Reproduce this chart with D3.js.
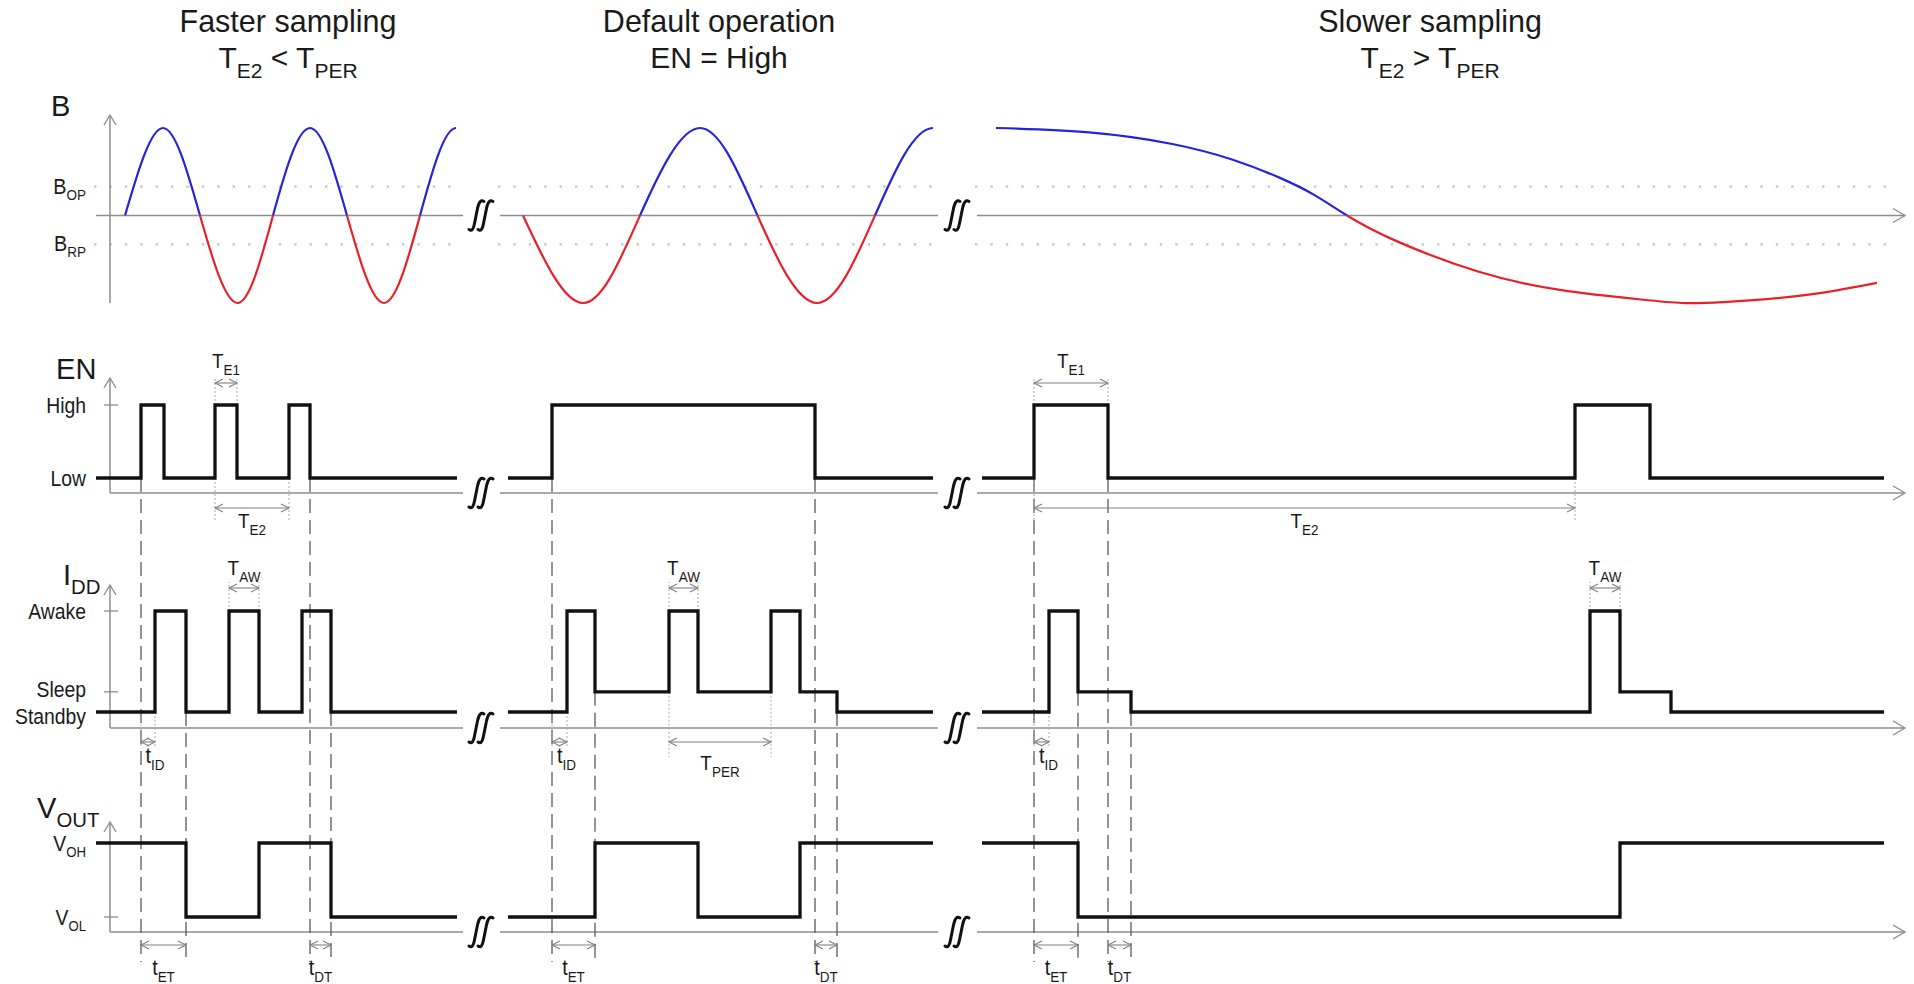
<!DOCTYPE html>
<html>
<head>
<meta charset="utf-8">
<script src="https://cdn.jsdelivr.net/npm/d3@7"></script>
<style>
  body { margin: 0; background: #fff; }
  svg { display: block; font-family: "Liberation Sans", Arial, sans-serif; }
</style>
</head>
<body>
<svg id="chart" width="1914" height="984"></svg>
<script>
"use strict";
// ---- data (time in arbitrary units, levels in normalised units) ----
var titleLines = ["Faster sampling", "Default operation", "Slower sampling"];
var titleConds = [
    [["T", 0], ["E2", 1], [" < T", 0], ["PER", 1]],
    [["EN = High", 0]],
    [["T", 0], ["E2", 1], [" > T", 0], ["PER", 1]]
];
var panelCenters = [19.3, 62.4, 133.5];
var axisSpans = [[1.5, 36.8], [40.5, 84.3], [88.2, 181]];
var dotSpans = [[-0.1, 36], [40.3, 84.1], [88, 179.5]];
var breakTimes = [38.6, 86.2];

// magnetic field, key points [time, B]
var bFast = [[3.0, 0], [6.8, 1], [10.5, 0], [14.25, -1], [17.8, 0], [21.5, 1], [25.2, 0], [28.9, -1], [32.5, 0], [36.1, 1]];
var bDefault = [[42.8, 0], [48.8, -1], [54.5, 0], [60.5, 1], [66.25, 0], [72.2, -1], [78.0, 0], [83.8, 1]];
var bSlow = [[90.1, 1.0], [99.4, 0.95], [107.6, 0.82], [113.7, 0.64], [118.5, 0.43], [122.0, 0.23], [125.2, 0],
    [130.1, -0.29], [138.3, -0.64], [146.5, -0.85], [154.6, -0.96], [158.7, -1.0], [162.8, -0.99], [171.0, -0.91], [178.2, -0.77]];
var bLevels = [{ name: "B", sub: "OP", v: 0.33 }, { name: "B", sub: "RP", v: -0.33 }];

// EN: 0 = Low, 1 = High
var en = [
    [[0.1, 0], [4.6, 1], [6.9, 0], [12.0, 1], [14.2, 0], [19.4, 1], [21.5, 0], [36.2, 0]],
    [[41.3, 0], [45.7, 1], [72.0, 0], [83.8, 0]],
    [[88.7, 0], [93.9, 1], [101.3, 0], [148.0, 1], [155.5, 0], [178.9, 0]]
];
// IDD: 0 = Standby, 0.2 = Sleep, 1 = Awake
var idd = [
    [[0.1, 0], [6.0, 1], [9.1, 0], [13.4, 1], [16.4, 0], [20.7, 1], [23.6, 0], [36.2, 0]],
    [[41.3, 0], [47.2, 1], [50.0, 0.2], [57.4, 1], [60.3, 0.2], [67.6, 1], [70.5, 0.2], [74.2, 0], [83.8, 0]],
    [[88.7, 0], [95.4, 1], [98.3, 0.2], [103.6, 0], [149.5, 1], [152.5, 0.2], [157.6, 0], [178.9, 0]]
];
// VOUT: 0 = VOL, 1 = VOH
var vout = [
    [[0.1, 1], [9.1, 0], [16.4, 1], [23.6, 0], [36.2, 0]],
    [[41.3, 0], [50.0, 1], [60.3, 0], [70.5, 1], [83.8, 1]],
    [[88.7, 1], [98.3, 0], [152.5, 1], [178.9, 1]]
];
var enLevels = [{ name: "High", v: 1, tick: true }, { name: "Low", v: 0, tick: false }];
var iddLevels = [{ name: "Awake", v: 1, tick: true }, { name: "Sleep", v: 0.2, tick: true }, { name: "Standby", v: 0, tick: false }];
var voutLevels = [{ name: "V", sub: "OH", v: 1, tick: false }, { name: "V", sub: "OL", v: 0, tick: true }];

// dashed timing markers: [time, signal, level where it starts]
var dashMarks = [
    [4.6, "en", 0], [9.1, "idd", 0], [21.5, "en", 0], [23.6, "idd", 0],
    [45.7, "en", 0], [50.0, "idd", 0.2], [72.0, "en", 0], [74.2, "idd", 0],
    [93.9, "en", 0], [98.3, "idd", 0.2], [101.3, "en", 0], [103.6, "idd", 0]
];
// dimension annotations
var dims = [
    { t0: 12.0, t1: 14.2, name: "T", sub: "E1", row: "enTop" },
    { t0: 12.0, t1: 19.4, name: "T", sub: "E2", row: "enBottom" },
    { t0: 13.4, t1: 16.4, name: "T", sub: "AW", row: "iddTop" },
    { t0: 4.6, t1: 6.0, name: "t", sub: "ID", row: "iddBottom", from: 0 },
    { t0: 4.6, t1: 9.1, name: "t", sub: "ET", row: "voutBottom" },
    { t0: 21.5, t1: 23.6, name: "t", sub: "DT", row: "voutBottom" },
    { t0: 57.4, t1: 60.3, name: "T", sub: "AW", row: "iddTop" },
    { t0: 57.4, t1: 67.6, name: "T", sub: "PER", row: "iddBottom", from: 0.2 },
    { t0: 45.7, t1: 47.2, name: "t", sub: "ID", row: "iddBottom", from: 0 },
    { t0: 45.7, t1: 50.0, name: "t", sub: "ET", row: "voutBottom" },
    { t0: 72.0, t1: 74.2, name: "t", sub: "DT", row: "voutBottom" },
    { t0: 93.9, t1: 101.3, name: "T", sub: "E1", row: "enTop" },
    { t0: 93.9, t1: 148.0, name: "T", sub: "E2", row: "enBottom" },
    { t0: 149.5, t1: 152.5, name: "T", sub: "AW", row: "iddTop" },
    { t0: 93.9, t1: 95.4, name: "t", sub: "ID", row: "iddBottom", from: 0 },
    { t0: 93.9, t1: 98.3, name: "t", sub: "ET", row: "voutBottom" },
    { t0: 101.3, t1: 103.6, name: "t", sub: "DT", row: "voutBottom" }
];

// ---- scales ----
var x = d3.scaleLinear().domain([0, 181]).range([95, 1905]);
var yB = d3.scaleLinear().domain([-1, 1]).range([303, 128]);
var yEN = d3.scaleLinear().domain([0, 1]).range([478, 405]);
var yIDD = d3.scaleLinear().domain([0, 1]).range([712, 611]);
var yV = d3.scaleLinear().domain([0, 1]).range([917, 843]);
var scales = { en: yEN, idd: yIDD, vout: yV };

var AXIS = "#8e8e8e", DIM = "#808080";
var svg = d3.select("#chart");
svg.append("rect").attr("width", 1914).attr("height", 984).attr("fill", "#fff");

function richText(g, px, py, parts, size, subSize, shift, anchor, k) {
    var t = g.append("text")
        .attr("transform", "translate(" + px + "," + py + ") scale(" + (k || 1) + ",1)")
        .attr("text-anchor", anchor || "start")
        .attr("fill", "#1a1a1a")
        .attr("font-size", size);
    var cur = 0;
    parts.forEach(function (p) {
        var target = p[1] ? shift : 0;
        t.append("tspan").attr("dy", target - cur).attr("font-size", p[1] ? subSize : size).text(p[0]);
        cur = target;
    });
    return t;
}

function chevron(px, py, dir, len, half, color, w) {
    var d;
    if (dir === "right") { d = "M" + (px - len) + "," + (py - half) + "L" + px + "," + py + "L" + (px - len) + "," + (py + half); }
    if (dir === "left") { d = "M" + (px + len) + "," + (py - half) + "L" + px + "," + py + "L" + (px + len) + "," + (py + half); }
    if (dir === "up") { d = "M" + (px - half) + "," + (py + len) + "L" + px + "," + py + "L" + (px + half) + "," + (py + len); }
    svg.append("path").attr("d", d).attr("fill", "none").attr("stroke", color).attr("stroke-width", w || 1.3);
}

function hline(x1, x2, y, color, w, dash) {
    var l = svg.append("line").attr("x1", x1).attr("x2", x2).attr("y1", y).attr("y2", y)
        .attr("stroke", color).attr("stroke-width", w);
    if (dash) { l.attr("stroke-dasharray", dash); }
    return l;
}
function vline(xx, y1, y2, color, w, dash) {
    var l = svg.append("line").attr("x1", xx).attr("x2", xx).attr("y1", y1).attr("y2", y2)
        .attr("stroke", color).attr("stroke-width", w);
    if (dash) { l.attr("stroke-dasharray", dash); }
    return l;
}

// ---- titles ----
titleLines.forEach(function (txt, i) {
    var cx = x(panelCenters[i]);
    richText(svg, cx, 32, [[txt, 0]], 30.5, 30.5, 0, "middle", 1);
    richText(svg, cx, 68, titleConds[i], 30, 21, 10, "middle", 1);
});

// ---- rows: axes, labels, ticks ----
var rows = [
    { key: "b", axisY: yB(0), top: 115, bottom: 303, x0: 0.1, label: [["B", 0]], lx: 51, ly: 116, levels: [] },
    { key: "en", axisY: 493, top: 378, bottom: 493, x0: 1.5, label: [["EN", 0]], lx: 56, ly: 379, levels: enLevels },
    { key: "idd", axisY: 728, top: 585, bottom: 728, x0: 1.5, label: [["I", 0], ["DD", 1]], lx: 63, ly: 585, levels: iddLevels },
    { key: "vout", axisY: 932, top: 822, bottom: 932, x0: 1.5, label: [["V", 0], ["OUT", 1]], lx: 37, ly: 818, levels: voutLevels }
];
// baseline offsets of the level names
var levelDy = { High: 8, Low: 8, Awake: 8, Sleep: 5, Standby: 12 };

// B threshold dotted lines
bLevels.forEach(function (lv) {
    dotSpans.forEach(function (s) {
        hline(x(s[0]), x(s[1]), yB(lv.v), "#c4c4c4", 2.4, "2.4,13");
    });
    richText(svg, 86, yB(lv.v) + 7, [[lv.name, 0], [lv.sub, 1]], 22, 15, 6, "end", 0.9);
});

rows.forEach(function (r) {
    axisSpans.forEach(function (s, i) {
        hline(x(i === 0 ? r.x0 : s[0]), x(s[1]), r.axisY, AXIS, 1.5);
    });
    chevron(x(181), r.axisY, "right", 12, 7, AXIS, 1.4);
    vline(x(1.5), r.top, r.bottom, AXIS, 1.5);
    chevron(x(1.5), r.top, "up", 10, 6, AXIS, 1.4);
    richText(svg, r.lx, r.ly, r.label, 30, 21, 9, "start", 0.97);
    var ys = scales[r.key];
    r.levels.forEach(function (lv) {
        if (lv.tick) { hline(104, 118, ys(lv.v), AXIS, 1.3); }
        var parts = lv.sub ? [[lv.name, 0], [lv.sub, 1]] : [[lv.name, 0]];
        var dy = levelDy[lv.name] !== undefined ? levelDy[lv.name] : 8;
        richText(svg, 86, ys(lv.v) + dy, parts, 22, 15, 6, "end", 0.88);
    });
});

// ---- dashed timing markers ----
dashMarks.forEach(function (m) {
    vline(x(m[0]), scales[m[1]](m[2]), 962, "#5a5a5a", 1.3, "14,7");
});

// ---- dimension annotations ----
var dimRows = {
    enTop: { y: 383, ext: [yEN(1), 378], ly: 368 },
    enBottom: { y: 508, ext: [yEN(0), 521], ly: 528 },
    iddTop: { y: 588, ext: [yIDD(1), 582], ly: 575 },
    iddBottom: { y: 742, ly: 766 },
    voutBottom: { y: 945, ly: 975 }
};
dims.forEach(function (d) {
    var r = dimRows[d.row];
    var xa = x(d.t0), xb = x(d.t1);
    var e0, e1;
    if (r.ext) { e0 = r.ext[0]; e1 = r.ext[1]; }
    if (d.from !== undefined) { e0 = yIDD(d.from); e1 = r.y + (d.name === "T" ? 15 : 5); }
    if (e0 !== undefined) {
        vline(xa, e0, e1, "#a8a8a8", 1, "2,2");
        vline(xb, e0, e1, "#a8a8a8", 1, "2,2");
    }
    hline(xa, xb, r.y, DIM, 1.1);
    chevron(xa, r.y, "left", 8, 4, DIM, 1.1);
    chevron(xb, r.y, "right", 8, 4, DIM, 1.1);
    var isT = d.name === "T";
    var ly = r.ly - (d.row === "iddBottom" && !isT ? 3 : 0) + (d.row === "iddBottom" && isT ? 4 : 0);
    var lx = (xa + xb) / 2 + (d.row === "iddBottom" && !isT ? 7 : 0);
    richText(svg, lx, ly, [[d.name, 0], [d.sub, 1]], isT ? 21 : 22, 15, 7, "middle", 0.9);
});

// ---- magnetic field waves, blue above zero and red below ----
var defs = svg.append("defs");
defs.append("clipPath").attr("id", "above").append("rect")
    .attr("x", 0).attr("y", 0).attr("width", 1914).attr("height", yB(0));
defs.append("clipPath").attr("id", "below").append("rect")
    .attr("x", 0).attr("y", yB(0)).attr("width", 1914).attr("height", 984);
var waves = [
    { pts: bFast, curve: d3.curveNatural, endsAtPeak: true },
    { pts: bDefault, curve: d3.curveNatural, endsAtPeak: true },
    { pts: bSlow, curve: d3.curveNatural, endsAtPeak: false }
];
waves.forEach(function (w, i) {
    var pts = w.pts.slice();
    var first = pts[0], last = pts[pts.length - 1];
    if (w.endsAtPeak) {
        // mirror the previous key point so the spline flattens at the final peak
        var prev = pts[pts.length - 2];
        pts.push([2 * last[0] - prev[0], prev[1]]);
    }
    defs.append("clipPath").attr("id", "span" + i).append("rect")
        .attr("x", x(first[0]) - 2).attr("y", 0).attr("width", x(last[0]) - x(first[0]) + 2).attr("height", 984);
    var line = d3.line().x(function (d) { return x(d[0]); }).y(function (d) { return yB(d[1]); }).curve(w.curve);
    var g = svg.append("g").attr("clip-path", "url(#span" + i + ")");
    g.append("path").attr("d", line(pts)).attr("clip-path", "url(#above)")
        .attr("fill", "none").attr("stroke", "#2424d8").attr("stroke-width", 2.2);
    g.append("path").attr("d", line(pts)).attr("clip-path", "url(#below)")
        .attr("fill", "none").attr("stroke", "#e8202a").attr("stroke-width", 2.2);
});

// ---- digital signals ----
function drawSteps(series, ys) {
    var line = d3.line().x(function (d) { return x(d[0]); }).y(function (d) { return ys(d[1]); }).curve(d3.curveStepAfter);
    series.forEach(function (s) {
        svg.append("path").attr("d", line(s)).attr("fill", "none")
            .attr("stroke", "#111").attr("stroke-width", 3.3).attr("stroke-linejoin", "miter");
    });
}
drawSteps(en, yEN);
drawSteps(idd, yIDD);
drawSteps(vout, yV);

// ---- axis break symbols ----
var sPath = "M-11,14 Q-7,17 -5.5,8 L-2.5,-7 Q-0.5,-17 4,-14";
rows.forEach(function (r) {
    breakTimes.forEach(function (t) {
        var g = svg.append("g").attr("transform", "translate(" + (x(t) - 1) + "," + r.axisY + ")");
        [0, 9].forEach(function (off) {
            g.append("path").attr("d", sPath).attr("transform", "translate(" + off + ",0)")
                .attr("fill", "none").attr("stroke", "#111").attr("stroke-width", 3).attr("stroke-linecap", "round");
        });
    });
});
</script>
</body>
</html>
